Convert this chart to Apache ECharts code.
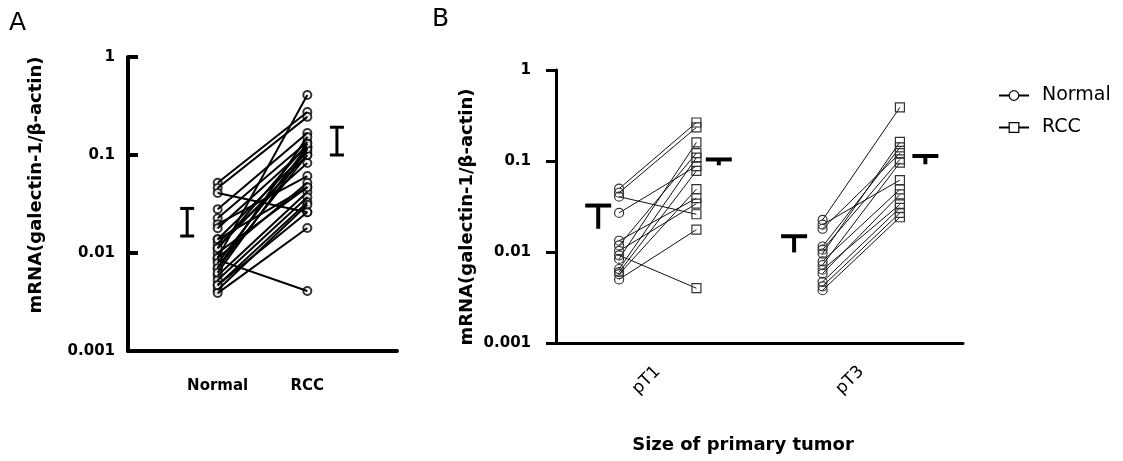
<!DOCTYPE html>
<html>
<head>
<meta charset="utf-8">
<script src="https://cdn.jsdelivr.net/npm/echarts@6/dist/echarts.min.js"></script>
<style>
  html, body { margin: 0; padding: 0; background: #fff; }
  #chart { width: 1123px; height: 461px; }
</style>
</head>
<body>
<div id="chart"></div>
<script>
// panel A: paired samples (normal vs RCC)
const aGroups = ['Normal', 'RCC'];
const aNormal = [0.052, 0.046, 0.041, 0.028, 0.0226, 0.0197, 0.0179, 0.0138, 0.0126, 0.0112, 0.0100, 0.0089, 0.0085,
                 0.0070, 0.0059, 0.0053, 0.0047, 0.0042, 0.0039, 0.0089, 0.0079, 0.0070, 0.0063, 0.0112, 0.0138, 0.0047];
const aRcc    = [0.275, 0.245, 0.026, 0.168, 0.136, 0.061, 0.121, 0.107, 0.083, 0.100, 0.047, 0.41, 0.0041,
                 0.153, 0.042, 0.037, 0.033, 0.031, 0.018, 0.052, 0.121, 0.100, 0.115, 0.130, 0.047, 0.026];
// error bars A: [upper, lower]
const aNormalBar = [0.0285, 0.0149];
const aRccBar = [0.192, 0.100];

// panel B: by tumour size
const bGroups = ['pT1', 'pT3'];
const pT1Normal = [0.0496, 0.0448, 0.0405, 0.0269, 0.0133, 0.0118, 0.0103, 0.0092, 0.0084, 0.0065, 0.0060, 0.0057, 0.0050];
const pT1Rcc    = [0.265, 0.234, 0.026, 0.088, 0.039, 0.122, 0.034, 0.004, 0.160, 0.109, 0.078, 0.049, 0.0176];
const pT3Normal = [0.0225, 0.0200, 0.0180, 0.0115, 0.0106, 0.0096, 0.0079, 0.0072, 0.0064, 0.0058, 0.0047, 0.0042, 0.0038];
const pT3Rcc    = [0.388, 0.0617, 0.122, 0.141, 0.104, 0.162, 0.0487, 0.096, 0.0333, 0.0429, 0.0306, 0.0269, 0.0241];
// error bars B: mean and lower end, order pT1 normal, pT1 RCC, pT3 normal, pT3 RCC
const bMean = [0.0324, 0.104, 0.0149, 0.1135];
const bLow  = [0.018, 0.0897, 0.0099, 0.092];

const yTitle = 'mRNA(galectin-1/β-actin)';
const font = 'DejaVu Sans, sans-serif';

let myChart = echarts.init(document.getElementById('chart'));

function logLabel(v) {
    const e = Math.round(Math.log10(v));
    return ['0.001', '0.01', '0.1', '1'][e + 3] || '';
}

// I-shaped bar for panel A
function renderI(params, api) {
    const x = api.value(0);
    const top = api.coord([x, api.value(1)]);
    const bot = api.coord([x, api.value(2)]);
    const w = 7;
    const st = { stroke: '#000', lineWidth: 3 };
    return {
        type: 'group',
        children: [
            { type: 'line', shape: { x1: top[0], y1: top[1], x2: bot[0], y2: bot[1] }, style: st },
            { type: 'line', shape: { x1: top[0] - w, y1: top[1], x2: top[0] + w, y2: top[1] }, style: st },
            { type: 'line', shape: { x1: bot[0] - w, y1: bot[1], x2: bot[0] + w, y2: bot[1] }, style: st }
        ]
    };
}

// T-shaped bar for panel B (mean + lower error)
function renderT(params, api) {
    const x = api.value(0);
    const m = api.coord([x, api.value(1)]);
    const lo = api.coord([x, api.value(2)]);
    const w = 13;
    const st = { stroke: '#000', lineWidth: 4 };
    return {
        type: 'group',
        children: [
            { type: 'line', shape: { x1: m[0] - w, y1: m[1], x2: m[0] + w, y2: m[1] }, style: st },
            { type: 'line', shape: { x1: m[0], y1: m[1], x2: lo[0], y2: lo[1] }, style: st }
        ]
    };
}

let series = [];

// A: pair lines
aNormal.forEach(function (n, i) {
    series.push({
        type: 'line', xAxisIndex: 0, yAxisIndex: 0, silent: true, showSymbol: false,
        data: [[1, n], [2, aRcc[i]]],
        lineStyle: { color: '#000', width: 2 }
    });
});
series.push({
    name: 'A Normal', type: 'scatter', xAxisIndex: 0, yAxisIndex: 0, symbol: 'circle', symbolSize: 8,
    data: aNormal.map(function (v) { return [1, v]; }),
    itemStyle: { color: '#fff', borderColor: '#000', borderWidth: 2 }
});
series.push({
    name: 'A RCC', type: 'scatter', xAxisIndex: 0, yAxisIndex: 0, symbol: 'circle', symbolSize: 8,
    data: aRcc.map(function (v) { return [2, v]; }),
    itemStyle: { color: '#fff', borderColor: '#000', borderWidth: 2 }
});
series.push({
    type: 'custom', xAxisIndex: 0, yAxisIndex: 0, renderItem: renderI, silent: true,
    encode: { x: 0, y: [1, 2] },
    data: [[0.66, aNormalBar[0], aNormalBar[1]], [2.33, aRccBar[0], aRccBar[1]]]
});

// B: x positions on hidden value axis (group centres at 1 and 3)
const offN = -0.38, offR = 0.38;
const bSets = [[pT1Normal, pT1Rcc, 1], [pT3Normal, pT3Rcc, 3]];
let bNormalPts = [], bRccPts = [];
bSets.forEach(function (s) {
    s[0].forEach(function (n, i) {
        series.push({
            type: 'line', xAxisIndex: 2, yAxisIndex: 1, silent: true, showSymbol: false,
            data: [[s[2] + offN, n], [s[2] + offR, s[1][i]]],
            lineStyle: { color: '#111', width: 1 }
        });
        bNormalPts.push([s[2] + offN, n]);
        bRccPts.push([s[2] + offR, s[1][i]]);
    });
});
series.push({
    name: 'Normal', type: 'line', xAxisIndex: 2, yAxisIndex: 1, symbol: 'circle', symbolSize: 9,
    data: bNormalPts, lineStyle: { opacity: 0, color: '#000' },
    itemStyle: { color: 'rgba(255,255,255,0)', borderColor: '#333', borderWidth: 1.2 }
});
series.push({
    name: 'RCC', type: 'line', xAxisIndex: 2, yAxisIndex: 1, symbol: 'rect', symbolSize: 9,
    data: bRccPts, lineStyle: { opacity: 0, color: '#000' },
    itemStyle: { color: 'rgba(255,255,255,0)', borderColor: '#333', borderWidth: 1.2 }
});
series.push({
    type: 'custom', xAxisIndex: 2, yAxisIndex: 1, renderItem: renderT, silent: true,
    encode: { x: 0, y: [1, 2] },
    data: [[0.415, bMean[0], bLow[0]], [1.6, bMean[1], bLow[1]],
           [2.34, bMean[2], bLow[2]], [3.63, bMean[3], bLow[3]]]
});

let option = {
    animation: false,
    textStyle: { fontFamily: font },
    grid: [
        { left: 128, top: 57, width: 269, height: 294 },
        { left: 556, top: 70, width: 407, height: 273 }
    ],
    xAxis: [
        {
            gridIndex: 0, type: 'value', min: 0, max: 3, interval: 1,
            axisLine: { lineStyle: { color: '#000', width: 4 } },
            axisTick: { show: false }, splitLine: { show: false },
            axisLabel: {
                margin: 28, color: '#000', fontWeight: 'bold', fontSize: 15, fontFamily: font,
                formatter: function (v) { return aGroups[v - 1] || ''; }
            }
        },
        {
            gridIndex: 1, type: 'category', data: bGroups, boundaryGap: true,
            axisLine: { lineStyle: { color: '#000', width: 3 } },
            axisTick: { alignWithLabel: true, length: 6, lineStyle: { width: 2, color: '#000' } },
            axisLabel: { rotate: 45, margin: 26, color: '#000', fontSize: 17, fontFamily: font }
        },
        { gridIndex: 1, type: 'value', min: 0, max: 4, show: false }
    ],
    yAxis: [
        {
            gridIndex: 0, type: 'log', logBase: 10, min: 0.001, max: 1,
            axisLine: { show: true, lineStyle: { color: '#000', width: 4 } },
            axisTick: { show: true, inside: true, length: 10, lineStyle: { width: 4, color: '#000' } },
            splitLine: { show: false },
            axisLabel: { margin: 13, color: '#000', fontWeight: 'bold', fontSize: 15, fontFamily: font, formatter: logLabel }
        },
        {
            gridIndex: 1, type: 'log', logBase: 10, min: 0.001, max: 1,
            axisLine: { show: true, lineStyle: { color: '#000', width: 3 } },
            axisTick: { show: true, length: 10, lineStyle: { width: 3, color: '#000' } },
            splitLine: { show: false },
            axisLabel: { margin: 25, color: '#000', fontWeight: 'bold', fontSize: 15, fontFamily: font, formatter: logLabel }
        }
    ],
    legend: {
        data: ['Normal', 'RCC'], orient: 'vertical', left: 993, top: 81,
        itemWidth: 30, itemHeight: 12, itemGap: 13,
        textStyle: { fontSize: 19, color: '#000', fontFamily: font, padding: [0, 0, 0, 8] },
        lineStyle: { color: '#000', width: 2, opacity: 1 },
        itemStyle: { color: '#fff', borderColor: '#000', borderWidth: 1.2 }
    },
    graphic: [
        { type: 'text', left: 9, top: 11, style: { text: 'A', fontSize: 25, fontFamily: font, fill: '#000' } },
        { type: 'text', left: 432, top: 7, style: { text: 'B', fontSize: 25, fontFamily: font, fill: '#000' } },
        { type: 'text', x: 36, y: 185, rotation: Math.PI / 2,
          style: { text: yTitle, fontSize: 18, fontWeight: 'bold', fontFamily: font, fill: '#000', align: 'center', verticalAlign: 'middle' } },
        { type: 'text', x: 467, y: 217, rotation: Math.PI / 2,
          style: { text: yTitle, fontSize: 18, fontWeight: 'bold', fontFamily: font, fill: '#000', align: 'center', verticalAlign: 'middle' } },
        { type: 'text', x: 743, y: 445,
          style: { text: 'Size of primary tumor', fontSize: 18, fontWeight: 'bold', fontFamily: font, fill: '#000', align: 'center', verticalAlign: 'middle' } }
    ],
    series: series
};

myChart.setOption(option);
</script>
</body>
</html>
